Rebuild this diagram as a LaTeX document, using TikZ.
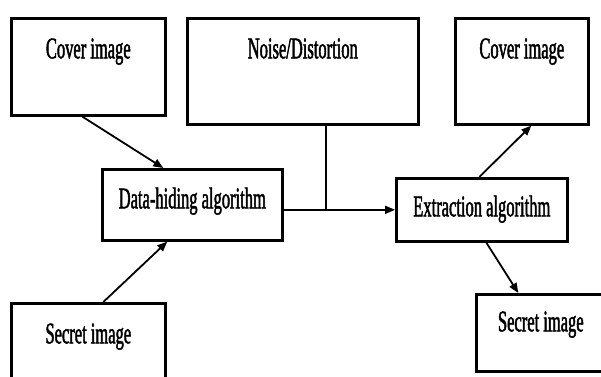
\documentclass[tikz,border=0pt]{standalone}
\usepackage{fontspec}
\setmainfont{Liberation Serif}[FakeStretch=0.55,FakeBold=1.5]
\usetikzlibrary{arrows.meta}

\begin{document}
\begin{tikzpicture}[x=1pt,y=-1pt,
  box/.style={draw,line width=2.6pt,inner sep=0pt,align=flush center,anchor=north west,
    font=\fontsize{30}{32}\selectfont},
  link/.style={line width=1.8pt,-{Triangle[length=10pt,width=8pt]}}]
  \useasboundingbox (0,0) rectangle (601,376);
  \clip (0,0) rectangle (601,376);
  %% Boxes
  \node[box,text width=154pt,text height=40pt,text depth=57pt] (coverL) at (10,17) {Cover image};
  \node[box,text width=231pt,text height=40pt,text depth=66pt] (noise) at (186,17) {Noise/Distortion};
  \node[box,text width=133pt,text height=40pt,text depth=66pt] (coverR) at (454,17) {Cover image};
  \node[box,text width=180pt,text height=39pt,text depth=32pt] (hide) at (101,168) {Data-hiding algorithm};
  \node[box,text width=171pt,text height=38pt,text depth=25pt] (extract) at (395,177) {Extraction algorithm};
  \node[box,text width=154pt,text height=40pt,text depth=57pt] (secretL) at (10,302) {Secret image};
  \node[box,text width=129pt,text height=37pt,text depth=40pt] (secretR) at (475,293) {Secret image};
  %% Connectors
  \draw[link] ([xshift=-6pt]coverL.south) -- ([xshift=-29pt]hide.north);
  \draw[link] ([xshift=15pt]secretL.north) -- ([xshift=-25pt]hide.south);
  \draw[link] (hide.east |- extract.west) -- (extract.west);
  \coordinate (tap) at ([xshift=23.5pt]noise.south);
  \coordinate (join) at (tap |- extract.west);
  \draw[line width=1.8pt] (tap) -- (join);
  \draw[link] ([xshift=-2.5pt]extract.north) -- ([xshift=9.5pt]coverR.south);
  \draw[link] ([xshift=4.5pt]extract.south) -- ([xshift=-22.5pt]secretR.north);
\end{tikzpicture}
\end{document}
